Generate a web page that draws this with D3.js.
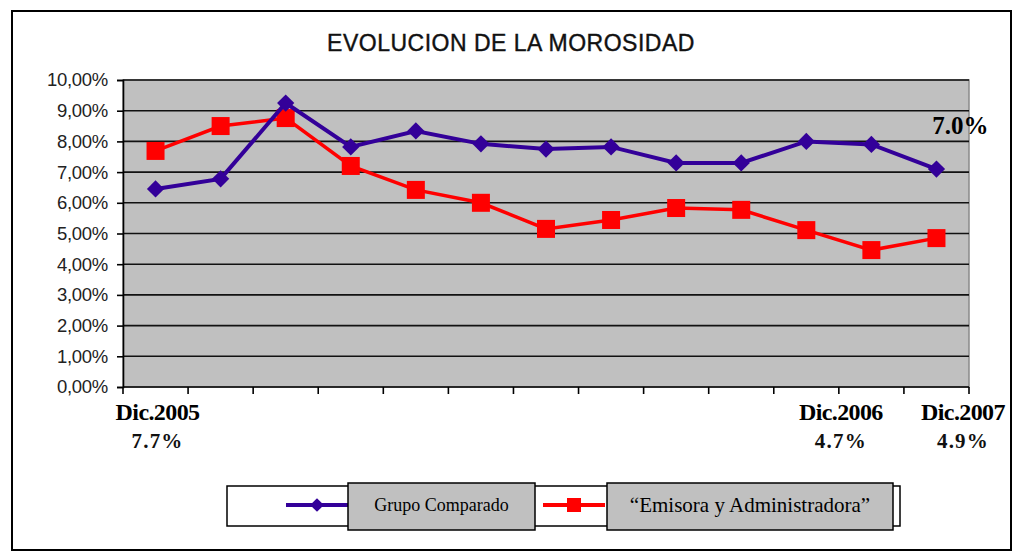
<!DOCTYPE html>
<html lang="es">
<head>
<meta charset="UTF-8">
<title>Evolucion de la morosidad</title>
<script src="https://cdn.jsdelivr.net/npm/d3@7/dist/d3.min.js"></script>
<style>
body { margin: 0; background: #fff; }
svg { display: block; }
</style>
</head>
<body>
<svg width="1018" height="559"></svg>
<script>
// periodos (13 puntos, Dic.2005 ... Dic.2007)
var periodos = ['P1','P2','P3','P4','P5','P6','P7','P8','P9','P10','P11','P12','P13'];
var grupoComparado = [6.45, 6.78, 9.25, 7.82, 8.34, 7.92, 7.75, 7.82, 7.30, 7.30, 8.00, 7.90, 7.10];
var emisora = [7.69, 8.50, 8.76, 7.20, 6.42, 6.00, 5.15, 5.44, 5.83, 5.77, 5.11, 4.46, 4.85];
var yTicks = [0, 1, 2, 3, 4, 5, 6, 7, 8, 9, 10];
var fechas = ['Dic.2005', 'Dic.2006', 'Dic.2007'];
var valoresFecha = ['7.7%', '4.7%', '4.9%'];
var notaGrupo = '7.0%';
var series = ['Grupo Comparado', '\u201cEmisora y Administradora\u201d'];

var svg = d3.select('svg');
var azul = '#330099', rojo = '#ff0000';

// marco exterior
svg.append('rect').attr('x', 12).attr('y', 11).attr('width', 999).attr('height', 539)
    .attr('fill', '#fff').attr('stroke', '#000').attr('stroke-width', 2);

var pLeft = 123, pRight = 969, pTop = 80, pBottom = 387;
var x = d3.scaleBand().domain(periodos).range([pLeft, pRight]);
var y = d3.scaleLinear().domain([0, 10]).range([pBottom, pTop]);

svg.append('text').attr('x', 511).attr('y', 51).attr('text-anchor', 'middle')
    .attr('font-family', 'Liberation Sans, Arial, sans-serif').attr('font-size', 23)
    .attr('letter-spacing', 0.5).attr('fill', '#111').attr('stroke', '#111').attr('stroke-width', 0.4)
    .text('EVOLUCION DE LA MOROSIDAD');

svg.append('rect').attr('x', pLeft).attr('y', pTop).attr('width', pRight - pLeft).attr('height', pBottom - pTop)
    .attr('fill', '#c0c0c0').attr('stroke', '#8a8a8a').attr('stroke-width', 1.5);

// lineas de division
svg.append('g').selectAll('line').data(yTicks.slice(1)).enter().append('line')
    .attr('x1', pLeft).attr('x2', pRight)
    .attr('y1', function(d) { return y(d); }).attr('y2', function(d) { return y(d); })
    .attr('stroke', '#111').attr('stroke-width', 1.6);

var fmt = function(d) { return d.toFixed(2).replace('.', ',') + '%'; };
var yAxis = svg.append('g').attr('transform', 'translate(' + pLeft + ',0)')
    .call(d3.axisLeft(y).tickValues(yTicks).tickFormat(fmt).tickSize(6).tickPadding(9));
yAxis.select('.domain').attr('stroke', '#000').attr('stroke-width', 1.6);
yAxis.selectAll('.tick line').attr('stroke', '#000').attr('stroke-width', 1.6);
yAxis.selectAll('text').attr('font-family', 'Liberation Sans, Arial, sans-serif')
    .attr('font-size', 18.5).attr('letter-spacing', -0.3).attr('fill', '#222');

var bounds = periodos.map(function(p) { return x(p); }).concat([pRight]);
var xg = svg.append('g');
xg.append('line').attr('x1', pLeft).attr('x2', pRight).attr('y1', pBottom).attr('y2', pBottom)
    .attr('stroke', '#000').attr('stroke-width', 1.6);
xg.selectAll('.tk').data(bounds).enter().append('line').attr('class', 'tk')
    .attr('x1', function(d) { return d; }).attr('x2', function(d) { return d; })
    .attr('y1', pBottom).attr('y2', pBottom + 7)
    .attr('stroke', '#000').attr('stroke-width', 1.6);

var cx = function(i) { return x(periodos[i]) + x.bandwidth() / 2; };
var line = d3.line().x(function(d, i) { return cx(i); }).y(function(d) { return y(d); });

svg.append('path').datum(emisora).attr('d', line).attr('fill', 'none')
    .attr('stroke', rojo).attr('stroke-width', 3.5);
svg.append('g').selectAll('rect').data(emisora).enter().append('rect')
    .attr('x', function(d, i) { return cx(i) - 9; }).attr('y', function(d) { return y(d) - 9; })
    .attr('width', 18).attr('height', 18).attr('fill', rojo);

svg.append('path').datum(grupoComparado).attr('d', line).attr('fill', 'none')
    .attr('stroke', azul).attr('stroke-width', 4);
var diamond = d3.symbol().type(d3.symbolDiamond2).size(190);
svg.append('g').selectAll('path').data(grupoComparado).enter().append('path')
    .attr('d', diamond)
    .attr('transform', function(d, i) { return 'translate(' + cx(i) + ',' + y(d) + ')'; })
    .attr('fill', azul);

// anotaciones
var posFecha = [cx(0) + 2, x(periodos[11]) + 2, pRight - 6];
var serif = 'Liberation Serif, Times New Roman, serif';
svg.append('g').selectAll('text').data(fechas).enter().append('text')
    .attr('x', function(d, i) { return posFecha[i]; }).attr('y', 420)
    .attr('text-anchor', 'middle').attr('font-family', serif).attr('font-weight', 'bold')
    .attr('font-size', 24).attr('letter-spacing', -0.6).attr('fill', '#000').text(function(d) { return d; });
svg.append('g').selectAll('text').data(valoresFecha).enter().append('text')
    .attr('x', function(d, i) { return posFecha[i]; }).attr('y', 448)
    .attr('text-anchor', 'middle').attr('font-family', serif).attr('font-weight', 'bold')
    .attr('font-size', 21).attr('letter-spacing', 1.2).attr('fill', '#111').text(function(d) { return d; });

svg.append('text').attr('x', cx(12) + 24).attr('y', 134).attr('text-anchor', 'middle')
    .attr('font-family', serif).attr('font-weight', 'bold').attr('font-size', 25)
    .attr('fill', '#000').text(notaGrupo);

// leyenda
var lg = svg.append('g');
lg.append('rect').attr('x', 227).attr('y', 486).attr('width', 673).attr('height', 40)
    .attr('fill', '#fff').attr('stroke', '#000').attr('stroke-width', 1.5);
lg.append('line').attr('x1', 286).attr('x2', 348).attr('y1', 505).attr('y2', 505)
    .attr('stroke', azul).attr('stroke-width', 4);
lg.append('path').attr('d', d3.symbol().type(d3.symbolDiamond2).size(120))
    .attr('transform', 'translate(317,505)').attr('fill', azul);
lg.append('line').attr('x1', 543).attr('x2', 605).attr('y1', 505).attr('y2', 505)
    .attr('stroke', rojo).attr('stroke-width', 4);
lg.append('rect').attr('x', 567).attr('y', 498).attr('width', 14).attr('height', 14).attr('fill', rojo);

var cajas = [{x: 348, w: 187}, {x: 607, w: 286}];
var tam = [18, 21];
lg.selectAll('.caja').data(series).enter().append('rect').attr('class', 'caja')
    .attr('x', function(d, i) { return cajas[i].x; }).attr('y', 483)
    .attr('width', function(d, i) { return cajas[i].w; }).attr('height', 47)
    .attr('fill', '#c0c0c0').attr('stroke', '#000').attr('stroke-width', 1.5);
lg.selectAll('.txt').data(series).enter().append('text').attr('class', 'txt')
    .attr('x', function(d, i) { return cajas[i].x + cajas[i].w / 2; })
    .attr('y', function(d, i) { return 511 + (i ? 1 : 0); })
    .attr('text-anchor', 'middle').attr('font-family', serif)
    .attr('font-size', function(d, i) { return tam[i]; }).attr('fill', '#000').text(function(d) { return d; });
</script>
</body>
</html>
